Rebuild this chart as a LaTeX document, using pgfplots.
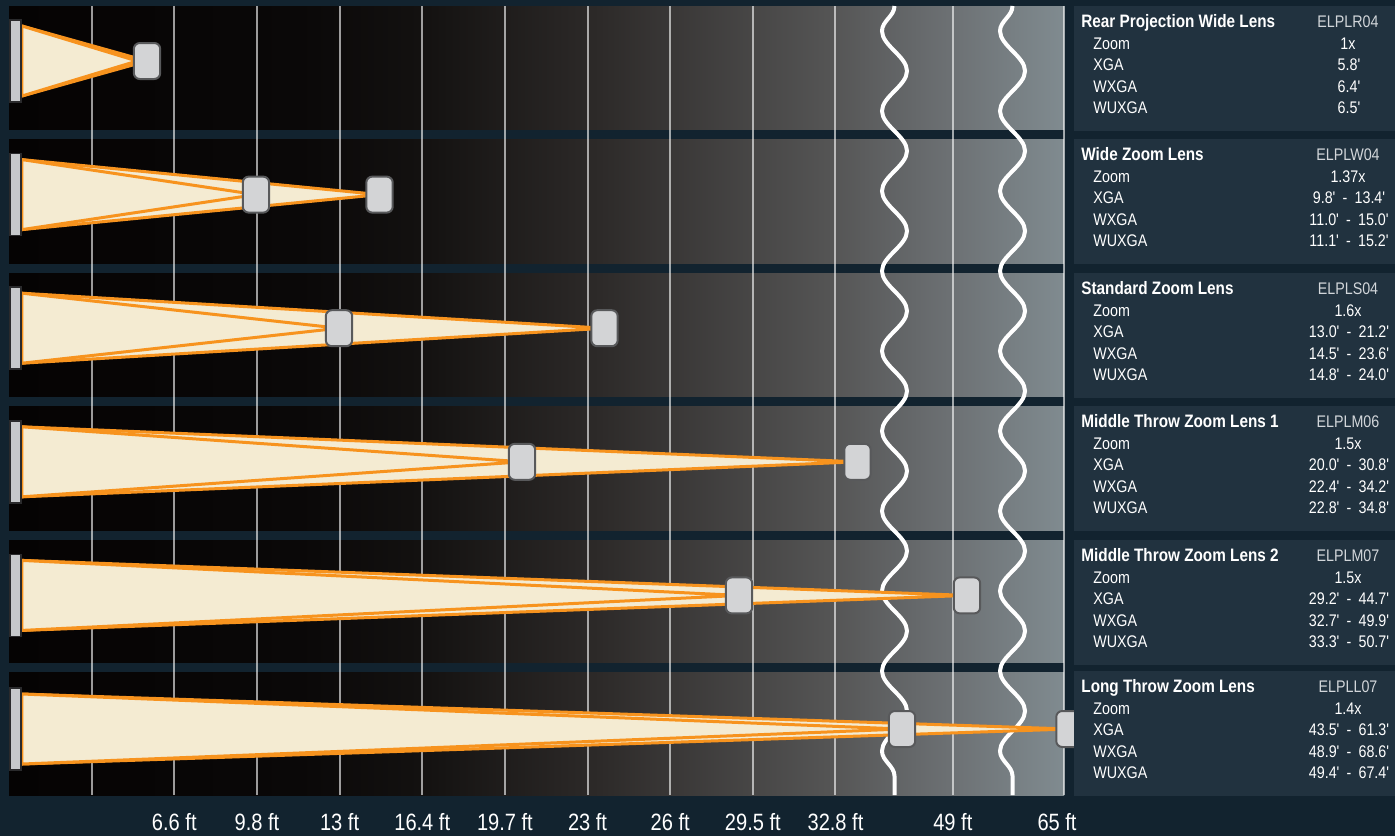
\documentclass[border=0pt]{standalone}
\usepackage{pgfplots}
\pgfplotsset{compat=1.18}
\usepackage{fontspec}
\setmainfont{Liberation Sans}[FakeStretch=0.85, Ligatures=TeXOff]
\usetikzlibrary{decorations.pathmorphing}

\definecolor{navybg}{HTML}{12232F}
\definecolor{boxbg}{HTML}{21323F}
\definecolor{beamorange}{HTML}{F7931E}
\definecolor{beamcream}{HTML}{F4EBD2}
\definecolor{projfill}{HTML}{D3D4D6}
\definecolor{projedge}{HTML}{58595B}
\definecolor{codegrey}{HTML}{D2D6DA}
\definecolor{scrfill}{HTML}{C6C8CB}
\definecolor{scredge}{HTML}{2A2A2C}
\definecolor{g0}{HTML}{050303}
\definecolor{g1}{HTML}{0A0808}
\definecolor{g2}{HTML}{131110}
\definecolor{g3}{HTML}{2D2A29}
\definecolor{g4}{HTML}{555555}
\definecolor{g5}{HTML}{6C7073}
\definecolor{g6}{HTML}{808B90}

\pgfdeclarehorizontalshading{panelbg}{100bp}{color(0bp)=(g0); color(25bp)=(g0);
  color(38.8bp)=(g1); color(44.5bp)=(g2); color(53bp)=(g3); color(64bp)=(g4);
  color(69.5bp)=(g5); color(75bp)=(g6); color(100bp)=(g6)}

% projector body (rounded box) and screen as plot marks
\pgfdeclareplotmark{projector}{%
  \pgfpathmoveto{\pgfpoint{-3.6pt}{-9pt}}%
  \pgfpathlineto{\pgfpoint{3.6pt}{-9pt}}%
  \pgfpatharc{270}{360}{3pt}%
  \pgfpathlineto{\pgfpoint{6.6pt}{6pt}}%
  \pgfpatharc{0}{90}{3pt}%
  \pgfpathlineto{\pgfpoint{-3.6pt}{9pt}}%
  \pgfpatharc{90}{180}{3pt}%
  \pgfpathlineto{\pgfpoint{-6.6pt}{-6pt}}%
  \pgfpatharc{180}{270}{3pt}%
  \pgfpathclose
  \pgfusepathqfillstroke}
\pgfdeclareplotmark{screen}{%
  \pgfpathrectangle{\pgfpoint{-2.75pt}{-20.5pt}}{\pgfpoint{5.5pt}{41pt}}%
  \pgfusepathqfillstroke}

\newcommand\pf{\fontsize{8.4pt}{10pt}\selectfont}
\newcommand\hf{\fontsize{9pt}{10pt}\selectfont\bfseries}
\newcommand\tf{\fontsize{11.8pt}{14pt}\selectfont}
\newcommand\rng{\hspace{3.6pt}-\hspace{3.6pt}}

% lens panel: top, title, code, zoom, xga, wxga, wuxga
\newcommand\lens[7]{%
  \fill[boxbg] (1074,#1) rectangle (1395,#1+124.5);
  \node[anchor=base west, inner sep=0, text=white, font=\hf] at (1081,#1+21.5) {#2};
  \node[anchor=base, inner sep=0, text=codegrey, font=\pf] at (1348,#1+21.5) {#3};
  \node[anchor=base west, inner sep=0, text=white, font=\pf] at (1093,#1+43.1) {Zoom};
  \node[anchor=base west, inner sep=0, text=white, font=\pf] at (1093,#1+64.7) {XGA};
  \node[anchor=base west, inner sep=0, text=white, font=\pf] at (1093,#1+86.3) {WXGA};
  \node[anchor=base west, inner sep=0, text=white, font=\pf] at (1093,#1+107.9) {WUXGA};
  \node[anchor=base, inner sep=0, text=white, font=\pf] at (1348,#1+43.1) {#4};
  \node[anchor=base, inner sep=0, text=white, font=\pf] at (1349,#1+64.7) {#5};
  \node[anchor=base, inner sep=0, text=white, font=\pf] at (1349,#1+86.3) {#6};
  \node[anchor=base, inner sep=0, text=white, font=\pf] at (1349,#1+107.9) {#7};
}

\begin{document}
\begin{tikzpicture}
\begin{axis}[
  at={(4.5pt,-3pt)}, anchor=north west,
  scale only axis, width=527.5pt, height=394.5pt,
  xmin=0, xmax=12.765, ymin=0.5883, ymax=6.494, y dir=reverse,
  clip=false, set layers,
  axis line style={draw=none}, major tick length=0pt,
  xtick={1,2,3,4,5,6,7,8,9,10,11.42,12.765},
  xticklabels={,6.6 ft,9.8 ft,13 ft,16.4 ft,19.7 ft,23 ft,26 ft,29.5 ft,32.8 ft,49 ft,65 ft\kern7pt},
  xticklabel style={font=\tf, text=white, anchor=base, yshift=-17.5pt},
  ytick=\empty,
  xmajorgrids, grid style={white, opacity=0.6, line width=1pt},
]
\begin{pgfonlayer}{axis background}
  % whole picture background, then the graded panel and the row gaps
  \fill[navybg] (axis cs:-0.1089,0.5434) rectangle (axis cs:16.77,6.801);
  \shade[shading=panelbg] (axis cs:0,0.5883) rectangle (axis cs:12.765,6.494);
  \pgfplotsinvokeforeach{1.55,2.553,3.549,4.552,5.536}{
    \draw[navybg, line width=4.5pt] (axis cs:0,#1) -- (axis cs:12.765,#1);}
\end{pgfonlayer}

% axis break waves
\draw[white, line width=2pt, decorate, decoration={snake, mirror, amplitude=6.25pt, segment length=40pt}]
  (axis cs:10.714,0.5883) -- (axis cs:10.714,6.494);
\draw[white, line width=2pt, decorate, decoration={snake, mirror, amplitude=6.25pt, segment length=40pt}]
  (axis cs:12.142,0.5883) -- (axis cs:12.142,6.494);

\pgfplotsset{beam/.style={draw=beamorange, fill=beamcream, line width=1.5pt, line join=round}}
% Rear projection wide
\addplot[beam] coordinates {(0.157,0.738) (1.670,1) (0.157,1.262)} -- cycle;
\addplot[beam] coordinates {(0.157,0.738) (1.550,1) (0.157,1.262)} -- cycle;
% Wide zoom
\addplot[beam] coordinates {(0.157,1.738) (4.483,2) (0.157,2.262)} -- cycle;
\addplot[beam] coordinates {(0.157,1.738) (2.988,2) (0.157,2.262)} -- cycle;
% Standard zoom
\addplot[beam] coordinates {(0.157,2.738) (7.205,3) (0.157,3.262)} -- cycle;
\addplot[beam] coordinates {(0.157,2.738) (3.993,3) (0.157,3.262)} -- cycle;
% Middle throw 1
\addplot[beam] coordinates {(0.157,3.738) (10.266,4) (0.157,4.262)} -- cycle;
\addplot[beam] coordinates {(0.157,3.738) (6.207,4) (0.157,4.262)} -- cycle;
% Middle throw 2
\addplot[beam] coordinates {(0.157,4.738) (11.591,5) (0.157,5.262)} -- cycle;
\addplot[beam] coordinates {(0.157,4.738) (8.833,5) (0.157,5.262)} -- cycle;
% Long throw
\addplot[beam] coordinates {(0.157,5.738) (12.831,6) (0.157,6.262)} -- cycle;
\addplot[beam] coordinates {(0.157,5.738) (10.805,6) (0.157,6.262)} -- cycle;

% screens
\addplot[only marks, mark=screen, mark options={draw=scredge, fill=scrfill, line width=0.8pt}]
  coordinates {(0.079,1) (0.079,2) (0.079,3) (0.079,4) (0.079,5) (0.079,6)};
% projectors at shortest and longest throw
\addplot[only marks, mark=projector, mark options={draw=projedge, fill=projfill, line width=1pt}]
  coordinates {(1.670,1) (2.988,2) (4.483,2) (3.993,3) (7.205,3) (6.207,4)
               (10.266,4) (8.833,5) (11.591,5) (10.805,6) (12.831,6)};
\end{axis}

\begin{scope}[x=0.5pt,y=-0.5pt]
  \lens{6}{Rear Projection Wide Lens}{ELPLR04}{1x}{5.8'}{6.4'}{6.5'}
  \lens{139}{Wide Zoom Lens}{ELPLW04}{1.37x}{9.8'\rng13.4'}{11.0'\rng15.0'}{11.1'\rng15.2'}
  \lens{273}{Standard Zoom Lens}{ELPLS04}{1.6x}{13.0'\rng21.2'}{14.5'\rng23.6'}{14.8'\rng24.0'}
  \lens{406}{Middle Throw Zoom Lens 1}{ELPLM06}{1.5x}{20.0'\rng30.8'}{22.4'\rng34.2'}{22.8'\rng34.8'}
  \lens{540}{Middle Throw Zoom Lens 2}{ELPLM07}{1.5x}{29.2'\rng44.7'}{32.7'\rng49.9'}{33.3'\rng50.7'}
  \lens{671}{Long Throw Zoom Lens}{ELPLL07}{1.4x}{43.5'\rng61.3'}{48.9'\rng68.6'}{49.4'\rng67.4'}
  \pgfresetboundingbox
  \useasboundingbox (0,0) rectangle (1395,836);
\end{scope}
\end{tikzpicture}
\end{document}
